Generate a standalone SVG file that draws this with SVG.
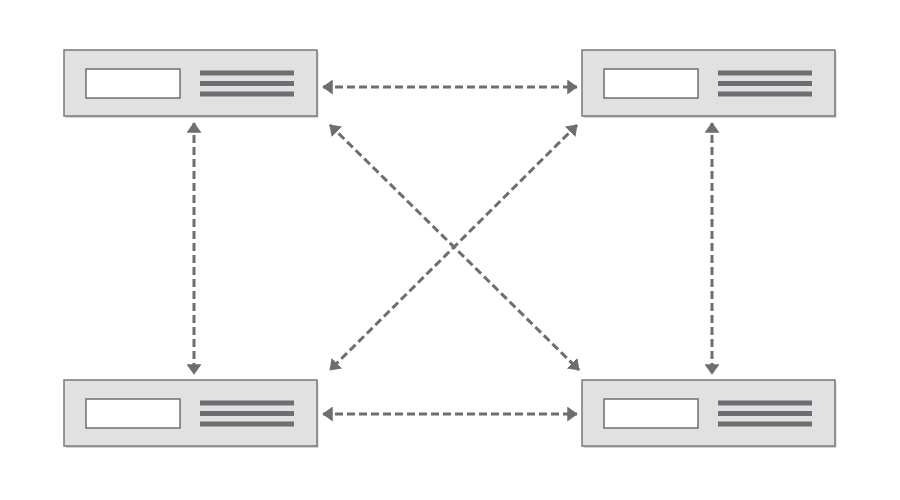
<svg xmlns="http://www.w3.org/2000/svg" width="900" height="500" viewBox="0 0 900 500">
<defs>
<style>
.box{fill:#e1e1e1;stroke:#77787b;stroke-width:1.5}
.shadow{fill:#000;opacity:0.18}
.inner{fill:#fff;stroke:#6d6e71;stroke-width:1.5}
.bar{fill:#6d6e71}
.conn{stroke:#6d6e71;stroke-width:3;stroke-dasharray:8 4;fill:none;marker-start:url(#ah);marker-end:url(#ah)}
</style>
<marker id="ah" viewBox="0 0 7 10" refX="6.5" refY="5" markerWidth="3.5" markerHeight="5" orient="auto-start-reverse" markerUnits="strokeWidth">
<path d="M0,0 L7,5 L0,10 z" fill="#6d6e71"/>
</marker>
<g id="node-tpl">
<rect class="shadow" x="1.5" y="2" width="253" height="66" rx="1"/>
<rect class="box" x="0" y="0" width="253" height="66"/>
<rect class="inner" x="22" y="19" width="94" height="29"/>
<rect class="bar" x="136" y="20.5" width="94" height="5"/>
<rect class="bar" x="136" y="31" width="94" height="5"/>
<rect class="bar" x="136" y="41.5" width="94" height="5"/>
</g>
</defs>
<rect width="900" height="500" fill="#fff"/>
<g id="connectors">
<line class="conn" x1="323" y1="87" x2="577" y2="87"/>
<line class="conn" x1="323" y1="414" x2="577" y2="414"/>
<line class="conn" x1="194" y1="123" x2="194" y2="374"/>
<line class="conn" x1="712" y1="123" x2="712" y2="374"/>
<line class="conn" x1="330" y1="125" x2="579" y2="370"/>
<line class="conn" x1="577" y1="125" x2="330" y2="370"/>
</g>
<g id="node-tl" transform="translate(64,50)"><use href="#node-tpl"/></g>
<g id="node-tr" transform="translate(582,50)"><use href="#node-tpl"/></g>
<g id="node-bl" transform="translate(64,380)"><use href="#node-tpl"/></g>
<g id="node-br" transform="translate(582,380)"><use href="#node-tpl"/></g>
</svg>
